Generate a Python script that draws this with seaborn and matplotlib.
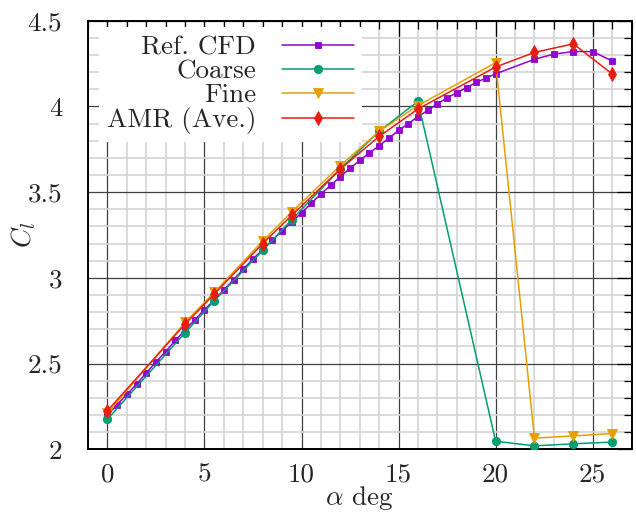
import numpy as np
import pandas as pd
import matplotlib
matplotlib.use("Agg")
import matplotlib.pyplot as plt
from matplotlib.ticker import MultipleLocator, FuncFormatter
import seaborn as sns

# Reference CFD lift curve
ref_alpha = [0, 0.5, 1, 1.5, 2, 2.5, 3, 3.5, 4, 4.5, 5, 5.5, 6, 6.5, 7, 7.5, 8, 8.5,
             9, 9.5, 10, 10.5, 11, 11.5, 12, 12.5, 13, 13.5, 14, 14.5, 15, 15.5, 16,
             16.5, 17, 17.5, 18, 18.5, 19, 19.5, 20, 22, 23, 24, 25, 26]
ref_cl = [2.20, 2.26, 2.32, 2.38, 2.445, 2.51, 2.57, 2.635, 2.695, 2.755, 2.815, 2.87,
          2.93, 2.99, 3.05, 3.11, 3.165, 3.22, 3.275, 3.325, 3.38, 3.435, 3.49, 3.54,
          3.59, 3.64, 3.685, 3.73, 3.77, 3.815, 3.86, 3.90, 3.94, 3.977, 4.015, 4.05,
          4.08, 4.11, 4.14, 4.165, 4.19, 4.275, 4.305, 4.32, 4.32, 4.265]

# Simulated cases
sim_alpha = [0, 4, 5.5, 8, 9.5, 12, 14, 16, 20, 22, 24, 26]
coarse_cl = [2.175, 2.68, 2.865, 3.16, 3.34, 3.635, 3.855, 4.03, 2.047, 2.02, 2.032, 2.042]
fine_cl = [2.21, 2.74, 2.915, 3.215, 3.385, 3.655, 3.855, 4.005, 4.255, 2.065, 2.078, 2.092]
amr_cl = [2.225, 2.73, 2.905, 3.20, 3.365, 3.635, 3.825, 3.985, 4.23, 4.315, 4.365, 4.19]

labels = ["Ref. CFD", "Coarse", "Fine", "AMR (Ave.)"]
colors = ["#9400d3", "#009e73", "#e69f00", "#e51e10"]

FS = 19.5

sns.set_style("white")
plt.rcParams["font.family"] = ["cmr10", "DejaVu Serif"]
plt.rcParams["mathtext.fontset"] = "cm"
plt.rcParams["axes.formatter.use_mathtext"] = True
plt.rcParams["axes.unicode_minus"] = False

fig = plt.figure(figsize=(6.36, 5.12), dpi=100)
ax = fig.add_axes([88 / 636, 1 - 449.3 / 512, 543.5 / 636, 428.6 / 512])

series = [
    (ref_alpha, ref_cl, "s", 4.5),
    (sim_alpha, coarse_cl, "o", 6.0),
    (sim_alpha, fine_cl, "v", 6.5),
    (sim_alpha, amr_cl, "d", 7.5),
]
for (xs, ys, mk, ms), lab, col in zip(series, labels, colors):
    df = pd.DataFrame({"alpha": xs, "cl": ys})
    sns.lineplot(data=df, x="alpha", y="cl", ax=ax, color=col, marker=mk,
                 markersize=ms, markeredgecolor=col, markeredgewidth=0.6,
                 linewidth=1.1, label=lab, estimator=None, sort=False, zorder=3)

ax.set_xlim(-1, 27)
ax.set_ylim(2, 4.5)
ax.xaxis.set_major_locator(MultipleLocator(5))
ax.xaxis.set_minor_locator(MultipleLocator(1))
ax.yaxis.set_major_locator(MultipleLocator(0.5))
ax.yaxis.set_minor_locator(MultipleLocator(0.1))
fmt = FuncFormatter(lambda v, p: "%g" % v)
ax.xaxis.set_major_formatter(fmt)
ax.yaxis.set_major_formatter(fmt)

ax.grid(which="minor", color="#d4d4d4", linewidth=1.2, zorder=0)
ax.grid(which="major", color="#404040", linewidth=0.9, zorder=0)
ax.set_axisbelow(True)

ax.tick_params(which="both", direction="in", top=True, right=True, color="black",
               width=0.9, labelsize=FS)
ax.tick_params(which="major", length=11)
ax.tick_params(which="minor", length=6)
ax.tick_params(axis="x", which="major", pad=10.0)
ax.tick_params(axis="y", which="major", pad=18.5)
for sp in ax.spines.values():
    sp.set_linewidth(1.4)
    sp.set_color("black")

ax.set_xlabel(r"$\alpha$ deg", fontsize=FS)
ax.set_ylabel(r"$C_l$", fontsize=FS)
ax.xaxis.label.set_va("baseline")
ax.xaxis.set_label_coords(0.5, -0.130)
ax.yaxis.set_label_coords(-0.092, 0.5)

handles, labs = ax.get_legend_handles_labels()
leg = ax.legend(handles, labs, loc="upper right", bbox_to_anchor=(0.505, 0.985),
                borderaxespad=0.0, markerfirst=False, fontsize=FS,
                handlelength=2.67, handletextpad=0.96, labelspacing=0.0,
                borderpad=0.3, frameon=True, fancybox=False, framealpha=1.0)
leg.get_frame().set_facecolor("white")
leg.get_frame().set_edgecolor("none")

fig.savefig("out.png", dpi=100)
